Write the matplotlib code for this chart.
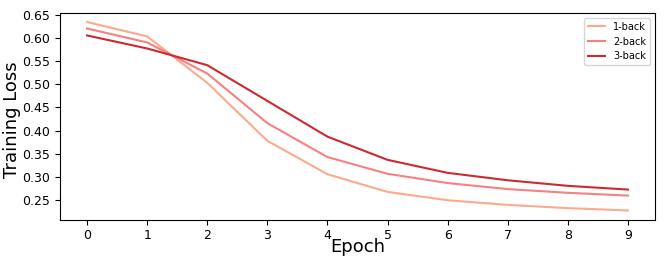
import matplotlib
matplotlib.use("Agg")
import matplotlib.pyplot as plt

epochs = list(range(10))
loss_1back = [0.634, 0.603, 0.503, 0.378, 0.306, 0.268, 0.250, 0.240, 0.233, 0.228]
loss_2back = [0.620, 0.590, 0.523, 0.416, 0.343, 0.307, 0.287, 0.274, 0.266, 0.260]
loss_3back = [0.605, 0.577, 0.541, 0.464, 0.387, 0.337, 0.309, 0.293, 0.281, 0.273]
labels = ["1-back", "2-back", "3-back"]
colors = ["#fcaa8e", "#f88080", "#cc2a2f"]

fig = plt.figure(figsize=(6.64, 2.66), dpi=100)
ax = fig.add_axes([60/664, 1 - 219.5/266, (655-60)/664, (219.5-13)/266])
for ys, lab, c in zip([loss_1back, loss_2back, loss_3back], labels, colors):
    ax.plot(epochs, ys, color=c, lw=1.5, label=lab)
ax.set_xticks(epochs)
ax.set_yticks([0.25, 0.30, 0.35, 0.40, 0.45, 0.50, 0.55, 0.60, 0.65])
ax.set_ylim(0.2085, 0.6534)
ax.tick_params(labelsize=9)
ax.set_xlabel("Epoch", fontsize=13)
ax.set_ylabel("Training Loss", fontsize=13)
ax.yaxis.set_label_coords(-0.066, 0.482)
ax.xaxis.set_label_coords(0.5, -0.092)
ax.legend(loc="upper right", fontsize=7, handlelength=1.8)
fig.savefig("out.png", dpi=100)
